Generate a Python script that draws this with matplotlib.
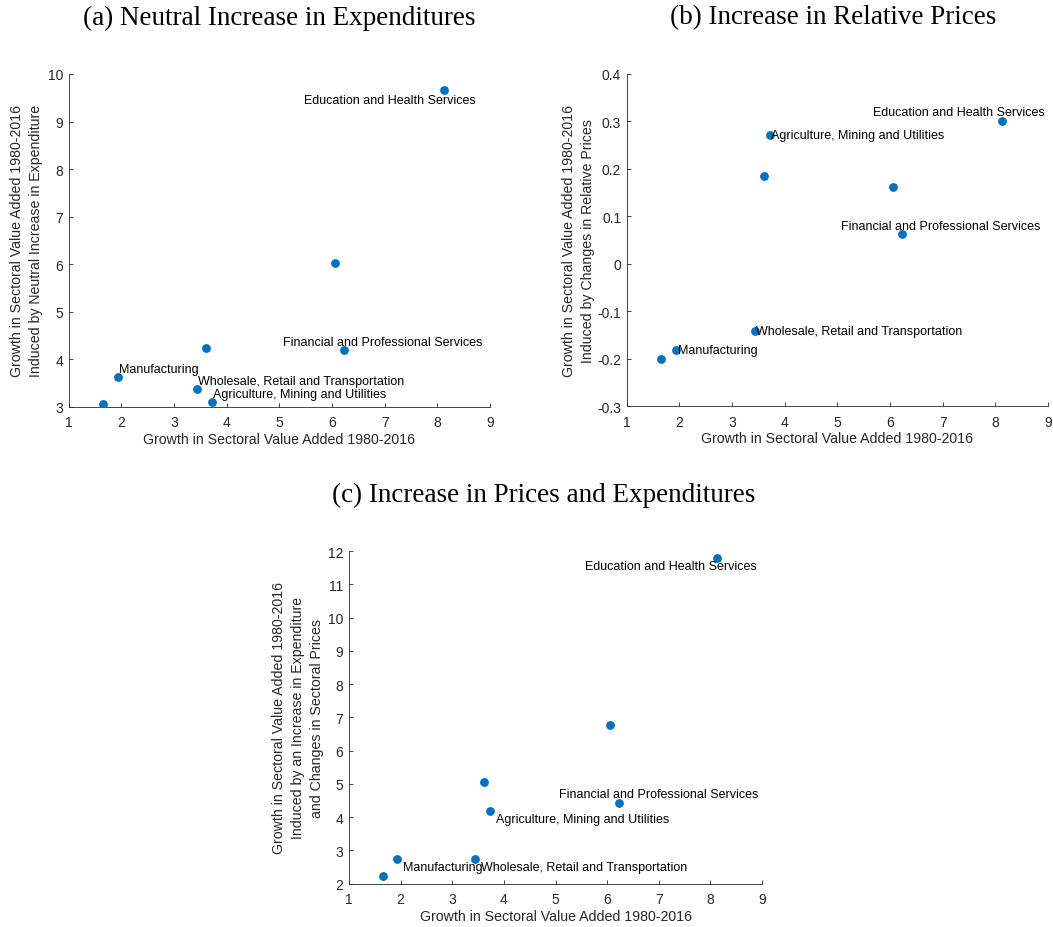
import matplotlib
matplotlib.use("Agg")
import matplotlib.pyplot as plt

plt.rcParams['font.family'] = ['Liberation Sans', 'DejaVu Sans']
plt.rcParams['axes.unicode_minus'] = False

# sectors (empty name = point without a label)
sectors = ["", "Manufacturing", "Wholesale, Retail and Transportation", "",
           "Agriculture, Mining and Utilities", "",
           "Financial and Professional Services", "Education and Health Services"]
va_growth = [1.65, 1.93, 3.44, 3.61, 3.73, 6.05, 6.23, 8.13]
neutral = [3.05, 3.63, 3.38, 4.23, 3.10, 6.03, 4.20, 9.66]
rel_prices = [-0.201, -0.182, -0.141, 0.186, 0.271, 0.161, 0.064, 0.301]
prices_exp = [2.24, 2.74, 2.74, 5.07, 4.20, 6.78, 4.42, 11.79]

x_ticks = [1, 2, 3, 4, 5, 6, 7, 8, 9]
yticks_a = [3, 4, 5, 6, 7, 8, 9, 10]
yticks_b = [-0.3, -0.2, -0.1, 0, 0.1, 0.2, 0.3, 0.4]
yticklabels_b = ["-0.3", "-0.2", "-0.1", "0", "0.1", "0.2", "0.3", "0.4"]
yticks_c = [2, 3, 4, 5, 6, 7, 8, 9, 10, 11, 12]

xlab = "Growth in Sectoral Value Added 1980-2016"
blue = '#0072BD'
dark = '#262626'

W, H = 1053, 928
fig = plt.figure(figsize=(W / 100, H / 100), dpi=100)


def make_axes(l, t, r, b):
    return fig.add_axes([l / W, 1 - b / H, (r - l) / W, (b - t) / H])


def style(ax, yvals, yt, ylim, ylabel, ylab_x, xlab_px, ytl=None):
    ax.scatter(va_growth, yvals, s=40, color=blue, zorder=3, linewidths=0)
    ax.set_xlim(1, 9)
    ax.set_ylim(*ylim)
    ax.set_xticks(x_ticks)
    ax.set_yticks(yt)
    if ytl is not None:
        ax.set_yticklabels(ytl)
    for s in ['top', 'right']:
        ax.spines[s].set_visible(False)
    for s in ['left', 'bottom']:
        ax.spines[s].set_color(dark)
        ax.spines[s].set_linewidth(0.6)
    ax.tick_params(direction='in', length=3, width=0.6, color=dark,
                   labelcolor=dark, labelsize=10)
    ax.tick_params(axis='y', pad=4)
    ax.tick_params(axis='x', pad=6)
    h = ax.get_position().height * H
    ax.set_xlabel(xlab, fontsize=10.2, color=dark, va='center')
    ax.xaxis.set_label_coords(0.5, -xlab_px / h)
    ax.set_ylabel(ylabel, fontsize=10.2, color=dark, va='center', linespacing=1.45)
    ax.yaxis.set_label_coords(ylab_x, 0.5)


def label_points(ax, yvals, offsets):
    for i, name in enumerate(sectors):
        if name == "":
            continue
        dx, dy, ha = offsets[name]
        ax.annotate(name, (va_growth[i], yvals[i]), xytext=(dx, dy),
                    textcoords='offset pixels', ha=ha, va='center',
                    fontsize=9, color='black')


# (a)
ax1 = make_axes(68.7, 75, 490, 407.7)
style(ax1, neutral, yticks_a, (3, 10),
      "Growth in Sectoral Value Added 1980-2016\nInduced by Neutral Increase in Expenditure",
      -0.1, 32)
label_points(ax1, neutral, {
    "Manufacturing": (1, 8, 'left'),
    "Wholesale, Retail and Transportation": (1, 8, 'left'),
    "Agriculture, Mining and Utilities": (1, 8, 'left'),
    "Financial and Professional Services": (39, 8, 'center'),
    "Education and Health Services": (-54, -10, 'center'),
})

# (b)
ax2 = make_axes(626.7, 75, 1048, 407.3)
style(ax2, rel_prices, yticks_b, (-0.3, 0.4),
      "Growth in Sectoral Value Added 1980-2016\nInduced by Changes in Relative Prices",
      -0.114, 32, yticklabels_b)
label_points(ax2, rel_prices, {
    "Manufacturing": (2, 0, 'left'),
    "Wholesale, Retail and Transportation": (1, 0, 'left'),
    "Agriculture, Mining and Utilities": (1, 0, 'left'),
    "Financial and Professional Services": (39, 8, 'center'),
    "Education and Health Services": (-43, 8.5, 'center'),
})

# (c)
ax3 = make_axes(349, 552, 762, 884.7)
style(ax3, prices_exp, yticks_c, (2, 12),
      "Growth in Sectoral Value Added 1980-2016\nInduced by an Increase in Expenditure\nand Changes in Sectoral Prices",
      -0.124, 32)
label_points(ax3, prices_exp, {
    "Manufacturing": (6, -8, 'left'),
    "Wholesale, Retail and Transportation": (6, -8, 'left'),
    "Agriculture, Mining and Utilities": (6, -8, 'left'),
    "Financial and Professional Services": (40, 9, 'center'),
    "Education and Health Services": (-46, -8, 'center'),
})

title_font = dict(family=['Liberation Serif', 'DejaVu Serif'], fontsize=19.5,
                  ha='center', va='center', color='black')
fig.text(279 / W, 1 - 18 / H, "(a) Neutral Increase in Expenditures", **title_font)
fig.text(833 / W, 1 - 18 / H, "(b) Increase in Relative Prices", **title_font)
fig.text(544 / W, 1 - 495 / H, "(c) Increase in Prices and Expenditures", **title_font)

fig.savefig("out.png", dpi=100)
